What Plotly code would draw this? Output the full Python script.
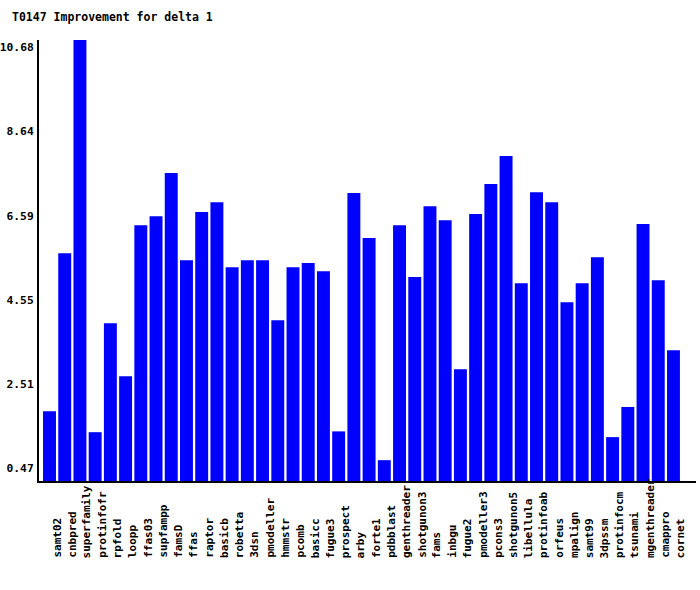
import plotly.graph_objects as go

title_text = "T0147 Improvement for delta 1"

categories = ["samt02", "cnbpred", "superfamily", "protinfofr", "rpfold", "loopp", "ffas03",
              "supfampp", "famsD", "ffas", "raptor", "basicb", "robetta", "3dsn", "pmodeller",
              "hmmstr", "pcomb", "basicc", "fugue3", "prospect", "arby", "forte1", "pdbblast",
              "genthreader", "shotgunon3", "fams", "inbgu", "fugue2", "pmodeller3", "pcons3",
              "shotgunon5", "libellula", "protinfoab", "orfeus", "mpalign", "samt99", "3dpssm",
              "protinfocm", "tsunami", "mgenthreader", "cmappro", "cornet"]

values = [1.84, 5.68, 10.86, 1.33, 3.98, 2.69, 6.36,
          6.58, 7.63, 5.51, 6.68, 6.92, 5.34, 5.51, 5.51,
          4.05, 5.34, 5.44, 5.24, 1.35, 7.14, 6.05, 0.65,
          6.36, 5.10, 6.82, 6.48, 2.86, 6.63, 7.36,
          8.04, 4.95, 7.16, 6.92, 4.49, 4.95, 5.58,
          1.21, 1.94, 6.39, 5.02, 3.32]

ytick_vals = [0.47, 2.51, 4.55, 6.59, 8.64, 10.68]
ytick_text = ["0.47", "2.51", "4.55", "6.59", "8.64", "10.68"]

FONT = "DejaVu Sans Mono"
L, R, T, B = 39, 4, 40, 109
W, H = 700, 590
PW, PH = W - L - R, H - T - B

fig = go.Figure()
fig.add_trace(go.Bar(
    x=list(range(len(categories))),
    y=values,
    marker=dict(color="#0000FF", line=dict(width=0)),
    width=0.85,
))

annotations = []
for i, name in enumerate(categories):
    annotations.append(dict(
        x=i, xref="x", y=-(559 - (H - B)) / PH, yref="paper",
        text=name, textangle=-90, showarrow=False,
        xanchor="center", yanchor="bottom", xshift=7,
        font=dict(family=FONT, size=11, color="black", weight="bold"),
        borderpad=0,
    ))

annotations.append(dict(
    x=(10 - L) / PW, xref="paper", xanchor="left",
    y=((H - B) - 17) / PH, yref="paper", yanchor="middle",
    text=title_text, showarrow=False,
    font=dict(family=FONT, size=11.5, color="black", weight="bold"),
))

fig.update_layout(
    width=W, height=H,
    margin=dict(l=L, r=R, t=T, b=B, pad=0, autoexpand=False),
    paper_bgcolor="white", plot_bgcolor="white",
    showlegend=False,
    bargap=0.15,
    annotations=annotations,
    xaxis=dict(
        range=[-0.69, 42.48], automargin=False,
        showticklabels=False, ticks="", showgrid=False, zeroline=False,
        showline=True, linecolor="black", linewidth=2,
    ),
    yaxis=dict(
        range=[0.144, 10.86], automargin=False,
        tickvals=ytick_vals, ticktext=ytick_text,
        ticks="outside", ticklen=1, tickcolor="white",
        showgrid=False, zeroline=False,
        showline=True, linecolor="black", linewidth=2,
        tickfont=dict(family=FONT, size=11.3, color="black", weight="bold"),
    ),
)

fig.write_html("out.html", config={"displayModeBar": False},
               post_script="document.body.style.margin='0';document.body.style.padding='0';")
